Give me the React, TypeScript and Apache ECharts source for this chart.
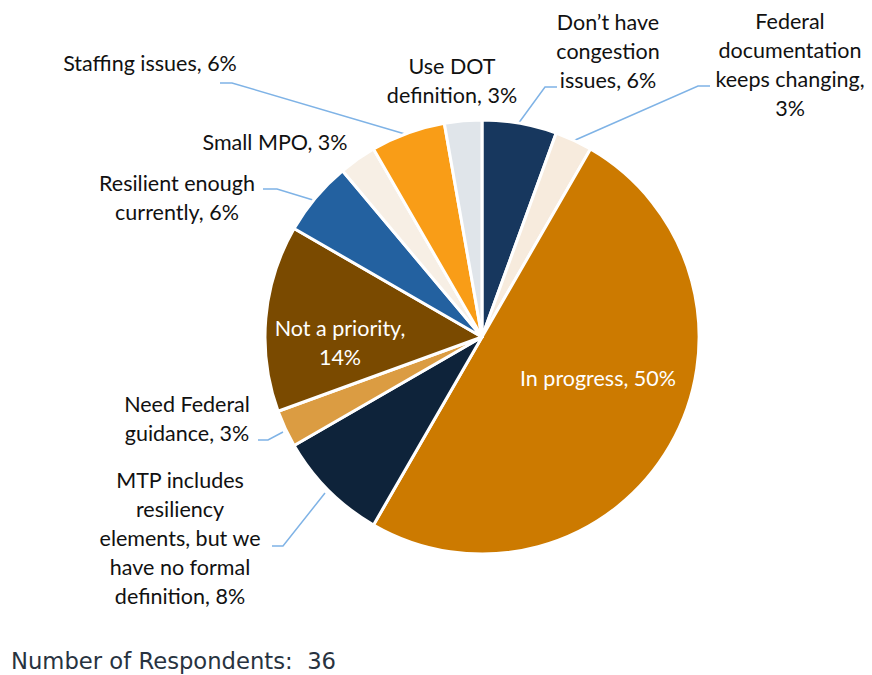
import React, { useEffect, useRef } from "react";
import * as echarts from "echarts";

const categories = [
  "Don’t have congestion issues",
  "Federal documentation keeps changing",
  "In progress",
  "MTP includes resiliency elements, but we have no formal definition",
  "Need Federal guidance",
  "Not a priority",
  "Resilient enough currently",
  "Small MPO",
  "Staffing issues",
  "Use DOT definition",
];
const counts = [2, 1, 18, 3, 1, 5, 2, 1, 2, 1];
const labelTexts = [
  "Don’t have\ncongestion\nissues, 6%",
  "Federal\ndocumentation\nkeeps changing,\n3%",
  "In progress, 50%",
  "MTP includes\nresiliency\nelements, but we\nhave no formal\ndefinition, 8%",
  "Need Federal\nguidance, 3%",
  "Not a priority,\n14%",
  "Resilient enough\ncurrently, 6%",
  "Small MPO, 3%",
  "Staffing issues, 6%",
  "Use DOT\ndefinition, 3%",
];
const colors = [
  "#17375E",
  "#F7EBDD",
  "#CC7A00",
  "#0E233A",
  "#DB9C42",
  "#7A4A00",
  "#2361A0",
  "#F7EFE5",
  "#F99D17",
  "#E0E5EA",
];
const respondents = 36;

// label layout positions (centre of text) and leader line points
const labelPos: { x: number; y: number; line?: number[][] }[] = [
  { x: 608, y: 51, line: [[518, 124], [545, 87], [557, 87]] },
  { x: 790, y: 64, line: [[573, 141], [698, 86], [710, 86]] },
  { x: 598, y: 378 },
  { x: 180, y: 538, line: [[325, 493], [283, 546], [272, 546]] },
  { x: 187, y: 418, line: [[283, 432], [268, 440], [258, 440]] },
  { x: 340, y: 342 },
  { x: 177, y: 197, line: [[313, 200], [277, 189], [263, 189]] },
  { x: 275, y: 142 },
  { x: 150, y: 63, line: [[405, 134], [232, 83], [220, 83]] },
  { x: 452, y: 80 },
];

export default function App() {
  const ref = useRef<HTMLDivElement>(null);
  useEffect(() => {
    document.body.style.margin = "0";
    if (!ref.current) return;
    const chart = echarts.init(ref.current, undefined, { renderer: "svg" });
    const inside = new Set([2, 5]);
    chart.setOption({
      animation: false,
      backgroundColor: "#ffffff",
      graphic: [
        {
          type: "text",
          x: 11,
          y: 661,
          style: {
            text: `Number of Respondents:  ${respondents}`,
            font: '22.7px "DejaVu Sans", Verdana, sans-serif',
            fill: "#28333f",
            verticalAlign: "middle",
          },
        },
      ],
      series: [
        {
          type: "pie",
          center: [482, 337],
          radius: [0, 217],
          startAngle: 90,
          clockwise: true,
          avoidLabelOverlap: false,
          itemStyle: { borderColor: "#ffffff", borderWidth: 3 },
          labelLine: {
            show: true,
            lineStyle: { color: "#7FB3E6", width: 1.5 },
          },
          labelLayout: (params: any) => {
            const p = labelPos[params.dataIndex];
            const r: any = { x: p.x, y: p.y, align: "center", verticalAlign: "middle" };
            if (p.line) r.labelLinePoints = p.line;
            return r;
          },
          data: categories.map((name, i) => ({
            name,
            value: counts[i],
            itemStyle: { color: colors[i] },
            label: {
              show: true,
              position: inside.has(i) ? "inside" : "outside",
              formatter: labelTexts[i],
              color: inside.has(i) ? "#ffffff" : "#111111",
              fontFamily: "Lato, 'Open Sans', sans-serif",
              fontSize: 21.5,
              lineHeight: 29,
              align: "center",
            },
            labelLine: { show: !!labelPos[i].line },
          })),
        },
      ],
    });
    return () => chart.dispose();
  }, []);
  return <div ref={ref} style={{ width: 872, height: 675 }} />;
}
